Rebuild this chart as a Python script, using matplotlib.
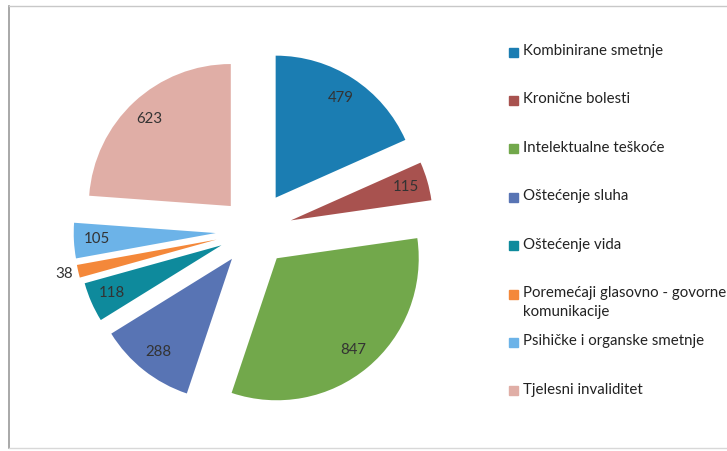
import numpy as np
import matplotlib
matplotlib.use("Agg")
import matplotlib.pyplot as plt
from matplotlib.lines import Line2D
from matplotlib.patches import Rectangle

categories = ["Kombinirane smetnje", "Kronične bolesti", "Intelektualne teškoće",
              "Oštećenje sluha", "Oštećenje vida",
              "Poremećaji glasovno - govorne\nkomunikacije",
              "Psihičke i organske smetnje", "Tjelesni invaliditet"]
values = [479, 115, 847, 288, 118, 38, 105, 623]

colors = ["#1B7DB2", "#A8524F", "#72A84B", "#5874B4",
          "#0E8A9C", "#F4883A", "#6CB3E8", "#E0AEA6"]
explode = [0.28, 0.27, 0.25, 0.25, 0.25, 0.27, 0.27, 0.24]

W, H = 727, 451
cx, cy, R = 254, 231, 142      # pie centre / radius in pixels (from top-left)

plt.rcParams['font.family'] = ['Lato', 'DejaVu Sans']
fig = plt.figure(figsize=(W / 100, H / 100), dpi=100)
ax = fig.add_axes([0, 0, 1, 1])

wedges, _ = ax.pie(values, colors=colors, explode=explode, startangle=90,
                   counterclock=False, radius=1, center=(0, 0),
                   wedgeprops=dict(linewidth=0))
ax.set_xlim(-cx / R, (W - cx) / R)
ax.set_ylim(-(H - cy) / R, cy / R)
ax.set_aspect('auto')
ax.axis('off')

# value labels
for w, v in zip(wedges, values):
    mid = np.deg2rad((w.theta1 + w.theta2) / 2)
    k = 1.1 if v < 50 else 0.84
    x0, y0 = w.center
    ax.text(x0 + k * np.cos(mid), y0 + k * np.sin(mid), str(v),
            ha='center', va='center', fontsize=10.8, color='#333333')

# legend, fixed slots
for i, (lab, c) in enumerate(zip(categories, colors)):
    yp = 52 + i * 48.4
    fy = 1 - yp / H
    fig.patches.append(Rectangle((509 / W, fy - 4.5 / H), 9 / W, 9 / H,
                                 transform=fig.transFigure, color=c))
    fig.text(523 / W, 1 - (yp - 8) / H, lab, ha='left', va='top',
             fontsize=10.8, color='#222222', linespacing=1.45)

# scanned frame
fr = '#9a9a9a'
fig.lines.append(Line2D([9 / W, 9 / W], [1 - 6 / H, 1 - 448 / H],
                        transform=fig.transFigure, color=fr, lw=1.2))
fig.lines.append(Line2D([9 / W, 1], [1 - 6 / H, 1 - 6 / H],
                        transform=fig.transFigure, color='#c8c8c8', lw=1))
fig.lines.append(Line2D([9 / W, 1], [1 - 448 / H, 1 - 448 / H],
                        transform=fig.transFigure, color='#d8d8d8', lw=1))

fig.savefig("out.png", dpi=100)
